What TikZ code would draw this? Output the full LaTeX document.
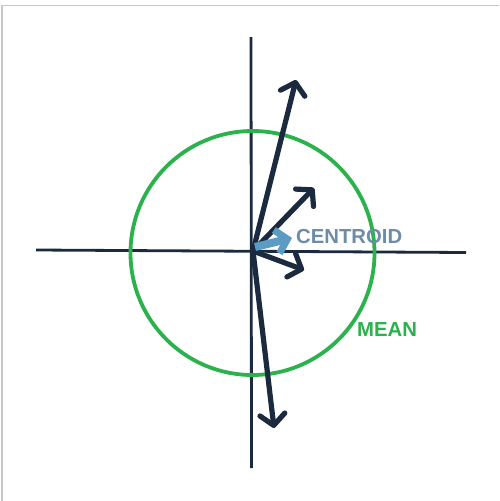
\documentclass[tikz,border=0pt]{standalone}
\usepackage{fontspec}
\setmainfont{Liberation Sans}
\usetikzlibrary{arrows.meta}
\definecolor{navy}{HTML}{1B2A3E}
\definecolor{meangreen}{HTML}{2BB24C}
\definecolor{centroidblue}{HTML}{6E8CA8}
\definecolor{arrowblue}{HTML}{5A9CC4}
\definecolor{frame}{HTML}{C8C8C8}
\tikzset{
  axis/.style={draw=navy, line width=2.8pt},
  vec/.style={draw=navy, line width=5.2pt, line cap=round, line join=round,
    -{Straight Barb[length=11pt, width=25pt, line width=5.2pt, round]}},
  cvec/.style={draw=arrowblue, line width=8pt, line join=miter,
    -{Straight Barb[length=11pt, width=24pt, line width=7pt]}},
  lbl/.style={font=\bfseries\fontsize{20.3}{20.3}\selectfont, inner sep=0pt, anchor=west},
}
\begin{document}
\begin{tikzpicture}[x=1pt,y=-1pt]
\useasboundingbox (0,0) rectangle (499,501);
\fill[white] (0,0) rectangle (499,501);
\draw[frame, line width=1.2pt] (2,501) -- (2,5.5) -- (499,5.5);
% axes
\coordinate (xl) at (36,250);
\coordinate (xr) at (466,252.5);
\coordinate (yt) at (251,37);
\coordinate (yb) at (251.5,468);
\draw[axis] (xl) -- (xr);
\draw[axis] (yt) -- (yb);
% mean circle
\coordinate (c) at (252.5,253);
\draw[meangreen, line width=3.8pt] (c) circle[radius=122];
% vectors
\coordinate (o) at (253,251);
\coordinate (t1) at (296,80);
\coordinate (t2) at (314,188);
\coordinate (t3) at (304,270);
\coordinate (t4) at (274,428);
\draw[vec] (o) -- (t1);
\draw[vec] (o) -- (t2);
\draw[vec] (o) -- (t3);
\draw[vec] (o) -- (t4);
% labels
\node[lbl, text=centroidblue] (cent) at (296,237) {CENTROID};
\coordinate (cs) at (255,247);
\coordinate (ct) at (292,238);
\draw[cvec] (cs) -- (ct);
\node[lbl, text=meangreen] (mean) at (357,330) {MEAN};
\end{tikzpicture}
\end{document}
